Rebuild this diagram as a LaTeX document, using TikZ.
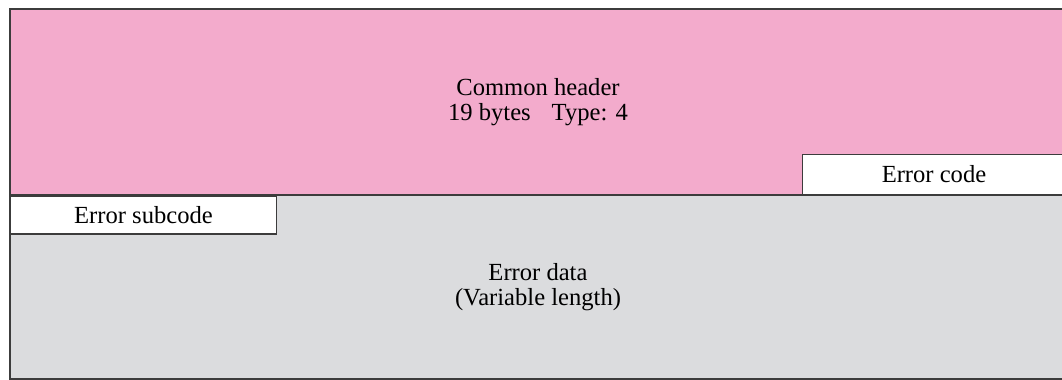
\documentclass[tikz,border=0pt]{standalone}
\usepackage{fontspec}
\setmainfont{Liberation Serif}
\usepackage{xcolor}
\usetikzlibrary{positioning}
\definecolor{hdrPink}{HTML}{F3ABCC}
\definecolor{dataGray}{HTML}{DBDCDE}
\definecolor{lineGray}{HTML}{3C3C3C}
\tikzset{
  field/.style={inner sep=0pt,align=center,font=\fontsize{14}{14.2}\selectfont},
  hdrfield/.style={field,fill=hdrPink},
  datafield/.style={field,fill=dataGray},
  subfield/.style={field,fill=white,draw=lineGray,line width=0.9pt},
  frame/.style={draw=lineGray,line width=1pt},
}
\begin{document}
\begin{tikzpicture}[x=0.02cm,y=-0.02cm]
\useasboundingbox (0,0) rectangle (1062,379);
\node[hdrfield,minimum width=21.12cm,minimum height=3.72cm] (hdr) at (538,102)
  {\raisebox{-8pt}{\shortstack{Common header\\[1pt]19 bytes\hspace{0.85em}Type: 4}}};
\node[datafield,minimum width=21.12cm,minimum height=3.66cm,below=0pt of hdr] (data)
  {\raisebox{-10pt}{\shortstack{Error data\\[1pt](Variable length)}}};
\node[subfield,minimum width=5.26cm,minimum height=0.8cm,anchor=south east] (code) at (hdr.south east) {Error code};
\node[subfield,minimum width=5.32cm,minimum height=0.76cm,anchor=north west] (sub) at (data.north west) {Error subcode};
% outline
\draw[frame] (hdr.north east) -- (hdr.north west) -- (data.south west) -- (data.south east);
\draw[frame] (hdr.south west) -- (hdr.south east);
\end{tikzpicture}
\end{document}
